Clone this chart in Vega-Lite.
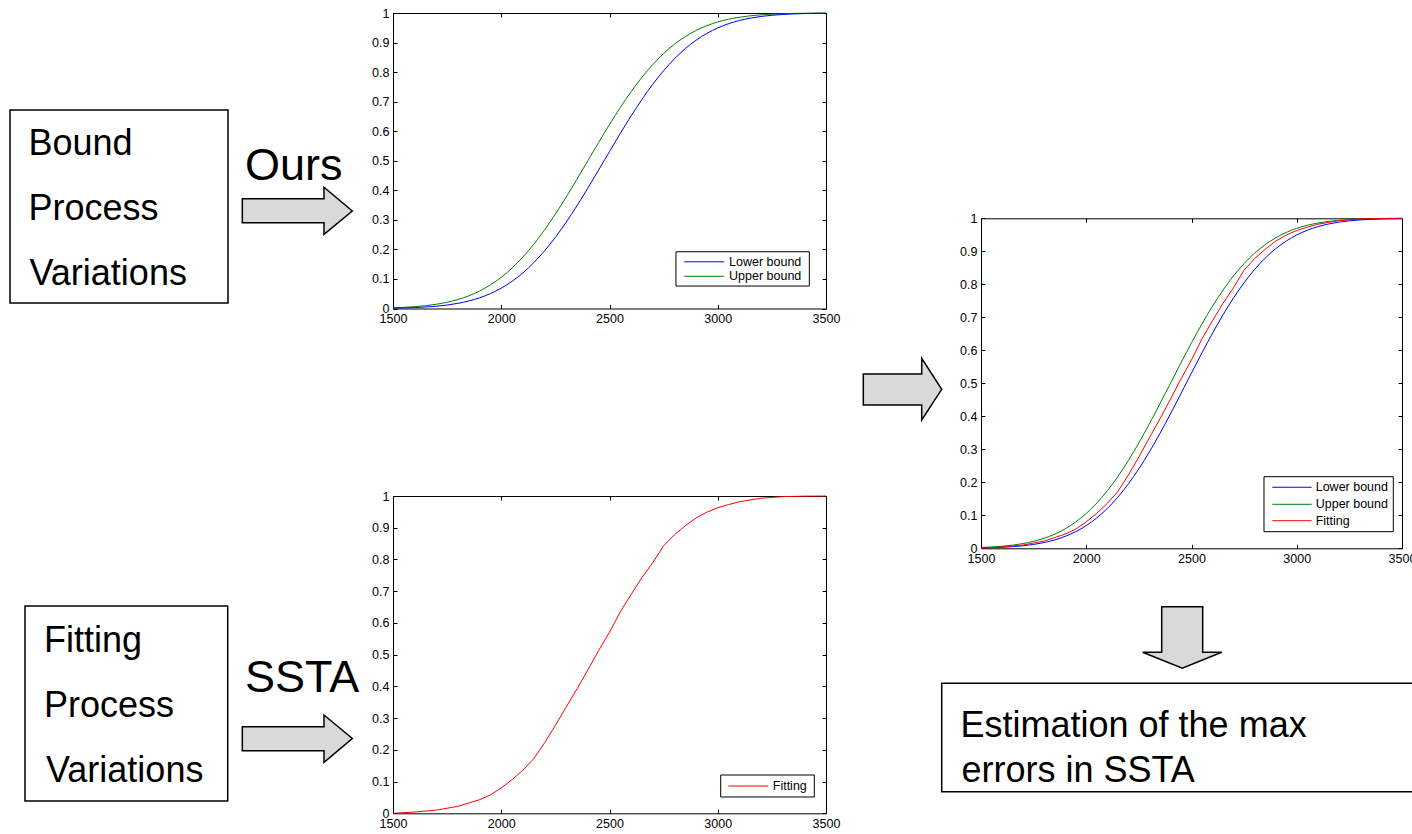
{
  "$schema": "https://vega.github.io/schema/vega-lite/v6.json",
  "width": 1412,
  "height": 834,
  "autosize": {"type": "none"},
  "padding": 0,
  "background": "white",
  "config": {
    "view": {"stroke": null},
    "axis": {
      "grid": false,
      "domainColor": "black",
      "domainWidth": 1,
      "tickColor": "black",
      "tickWidth": 1,
      "tickSize": -4,
      "labelPadding": 8,
      "labelColor": "black",
      "labelFont": "Liberation Sans",
      "labelFontSize": 12.5,
      "labelOverlap": false,
      "labelFlush": false,
      "labelBound": false
    }
  },
  "datasets": {
    "bounds": [
      {"series": "Upper bound", "x": 1500, "p": 0.0025},
      {"series": "Upper bound", "x": 1550, "p": 0.004},
      {"series": "Upper bound", "x": 1600, "p": 0.0062},
      {"series": "Upper bound", "x": 1650, "p": 0.0095},
      {"series": "Upper bound", "x": 1700, "p": 0.0144},
      {"series": "Upper bound", "x": 1750, "p": 0.0211},
      {"series": "Upper bound", "x": 1800, "p": 0.0304},
      {"series": "Upper bound", "x": 1850, "p": 0.0428},
      {"series": "Upper bound", "x": 1900, "p": 0.0591},
      {"series": "Upper bound", "x": 1950, "p": 0.0799},
      {"series": "Upper bound", "x": 2000, "p": 0.1056},
      {"series": "Upper bound", "x": 2050, "p": 0.137},
      {"series": "Upper bound", "x": 2100, "p": 0.1743},
      {"series": "Upper bound", "x": 2150, "p": 0.2173},
      {"series": "Upper bound", "x": 2200, "p": 0.266},
      {"series": "Upper bound", "x": 2250, "p": 0.3196},
      {"series": "Upper bound", "x": 2300, "p": 0.3773},
      {"series": "Upper bound", "x": 2350, "p": 0.438},
      {"series": "Upper bound", "x": 2400, "p": 0.5},
      {"series": "Upper bound", "x": 2450, "p": 0.562},
      {"series": "Upper bound", "x": 2500, "p": 0.6227},
      {"series": "Upper bound", "x": 2550, "p": 0.6804},
      {"series": "Upper bound", "x": 2600, "p": 0.734},
      {"series": "Upper bound", "x": 2650, "p": 0.7827},
      {"series": "Upper bound", "x": 2700, "p": 0.8257},
      {"series": "Upper bound", "x": 2750, "p": 0.863},
      {"series": "Upper bound", "x": 2800, "p": 0.8944},
      {"series": "Upper bound", "x": 2850, "p": 0.9201},
      {"series": "Upper bound", "x": 2900, "p": 0.9409},
      {"series": "Upper bound", "x": 2950, "p": 0.9572},
      {"series": "Upper bound", "x": 3000, "p": 0.9696},
      {"series": "Upper bound", "x": 3050, "p": 0.9789},
      {"series": "Upper bound", "x": 3100, "p": 0.9856},
      {"series": "Upper bound", "x": 3150, "p": 0.9905},
      {"series": "Upper bound", "x": 3200, "p": 0.9938},
      {"series": "Upper bound", "x": 3250, "p": 0.996},
      {"series": "Upper bound", "x": 3300, "p": 0.9975},
      {"series": "Upper bound", "x": 3350, "p": 0.9985},
      {"series": "Upper bound", "x": 3400, "p": 0.9991},
      {"series": "Upper bound", "x": 3450, "p": 0.9995},
      {"series": "Upper bound", "x": 3500, "p": 0.9997},
      {"series": "Lower bound", "x": 1500, "p": 0.0012},
      {"series": "Lower bound", "x": 1550, "p": 0.0019},
      {"series": "Lower bound", "x": 1600, "p": 0.0031},
      {"series": "Lower bound", "x": 1650, "p": 0.005},
      {"series": "Lower bound", "x": 1700, "p": 0.0077},
      {"series": "Lower bound", "x": 1750, "p": 0.0117},
      {"series": "Lower bound", "x": 1800, "p": 0.0175},
      {"series": "Lower bound", "x": 1850, "p": 0.0254},
      {"series": "Lower bound", "x": 1900, "p": 0.0362},
      {"series": "Lower bound", "x": 1950, "p": 0.0504},
      {"series": "Lower bound", "x": 2000, "p": 0.0689},
      {"series": "Lower bound", "x": 2050, "p": 0.0921},
      {"series": "Lower bound", "x": 2100, "p": 0.1206},
      {"series": "Lower bound", "x": 2150, "p": 0.1549},
      {"series": "Lower bound", "x": 2200, "p": 0.1951},
      {"series": "Lower bound", "x": 2250, "p": 0.241},
      {"series": "Lower bound", "x": 2300, "p": 0.2922},
      {"series": "Lower bound", "x": 2350, "p": 0.348},
      {"series": "Lower bound", "x": 2400, "p": 0.4074},
      {"series": "Lower bound", "x": 2450, "p": 0.4689},
      {"series": "Lower bound", "x": 2500, "p": 0.5311},
      {"series": "Lower bound", "x": 2550, "p": 0.5926},
      {"series": "Lower bound", "x": 2600, "p": 0.652},
      {"series": "Lower bound", "x": 2650, "p": 0.7078},
      {"series": "Lower bound", "x": 2700, "p": 0.759},
      {"series": "Lower bound", "x": 2750, "p": 0.8049},
      {"series": "Lower bound", "x": 2800, "p": 0.8451},
      {"series": "Lower bound", "x": 2850, "p": 0.8794},
      {"series": "Lower bound", "x": 2900, "p": 0.9079},
      {"series": "Lower bound", "x": 2950, "p": 0.9311},
      {"series": "Lower bound", "x": 3000, "p": 0.9496},
      {"series": "Lower bound", "x": 3050, "p": 0.9638},
      {"series": "Lower bound", "x": 3100, "p": 0.9746},
      {"series": "Lower bound", "x": 3150, "p": 0.9825},
      {"series": "Lower bound", "x": 3200, "p": 0.9883},
      {"series": "Lower bound", "x": 3250, "p": 0.9923},
      {"series": "Lower bound", "x": 3300, "p": 0.995},
      {"series": "Lower bound", "x": 3350, "p": 0.9969},
      {"series": "Lower bound", "x": 3400, "p": 0.9981},
      {"series": "Lower bound", "x": 3450, "p": 0.9988},
      {"series": "Lower bound", "x": 3500, "p": 0.9993}
    ],
    "fitting": [
      {"x": 1500, "p": 0.0},
      {"x": 1600, "p": 0.004},
      {"x": 1700, "p": 0.01},
      {"x": 1800, "p": 0.022},
      {"x": 1900, "p": 0.043},
      {"x": 1950, "p": 0.058},
      {"x": 2000, "p": 0.08},
      {"x": 2050, "p": 0.106},
      {"x": 2100, "p": 0.136},
      {"x": 2150, "p": 0.172},
      {"x": 2200, "p": 0.222},
      {"x": 2250, "p": 0.277},
      {"x": 2300, "p": 0.335},
      {"x": 2350, "p": 0.392},
      {"x": 2400, "p": 0.452},
      {"x": 2450, "p": 0.513},
      {"x": 2500, "p": 0.571},
      {"x": 2550, "p": 0.635},
      {"x": 2600, "p": 0.69},
      {"x": 2650, "p": 0.743},
      {"x": 2700, "p": 0.79},
      {"x": 2750, "p": 0.843},
      {"x": 2800, "p": 0.878},
      {"x": 2850, "p": 0.906},
      {"x": 2900, "p": 0.931},
      {"x": 2950, "p": 0.949},
      {"x": 3000, "p": 0.963},
      {"x": 3050, "p": 0.973},
      {"x": 3100, "p": 0.982},
      {"x": 3200, "p": 0.993},
      {"x": 3300, "p": 0.998},
      {"x": 3400, "p": 0.9995},
      {"x": 3500, "p": 1.0}
    ],
    "boxes": [
      {"x1": 10, "x2": 228, "y1": 110, "y2": 303},
      {"x1": 25, "x2": 227.7, "y1": 606, "y2": 801},
      {"x1": 941.7, "x2": 1420, "y1": 683.3, "y2": 791.7}
    ],
    "arrows": [
      {"id": "a1", "x": 242.3, "top": 198.7, "bottom": 222.7},
      {"id": "a1", "x": 324, "top": 198.7, "bottom": 222.7},
      {"id": "a1", "x": 324.01, "top": 187.3, "bottom": 234.3},
      {"id": "a1", "x": 352.3, "top": 211, "bottom": 211},
      {"id": "a2", "x": 242.3, "top": 726.7, "bottom": 750.7},
      {"id": "a2", "x": 324, "top": 726.7, "bottom": 750.7},
      {"id": "a2", "x": 324.01, "top": 715, "bottom": 762.3},
      {"id": "a2", "x": 352.3, "top": 738.5, "bottom": 738.5},
      {"id": "a3", "x": 863.3, "top": 374, "bottom": 405},
      {"id": "a3", "x": 921.7, "top": 374, "bottom": 405},
      {"id": "a3", "x": 921.71, "top": 358.3, "bottom": 420},
      {"id": "a3", "x": 941.7, "top": 389.3, "bottom": 389.3}
    ],
    "downArrow": [
      {"y": 606.7, "left": 1161.7, "right": 1202.7},
      {"y": 652.3, "left": 1161.7, "right": 1202.7},
      {"y": 652.31, "left": 1142.7, "right": 1221.7},
      {"y": 668.3, "left": 1182.3, "right": 1182.3}
    ],
    "labels35": [
      {"t": "Bound", "x": 28.5, "y": 155},
      {"t": "Process", "x": 28.5, "y": 220},
      {"t": "Variations", "x": 29.5, "y": 285},
      {"t": "Fitting", "x": 44, "y": 651.7},
      {"t": "Process", "x": 44, "y": 717},
      {"t": "Variations", "x": 46, "y": 781.7},
      {"t": "Estimation of the max", "x": 960.5, "y": 736.7},
      {"t": "errors in SSTA", "x": 961.5, "y": 781.7}
    ],
    "labels44": [
      {"t": "Ours", "x": 245, "y": 180},
      {"t": "SSTA", "x": 245, "y": 691.7}
    ]
  },
  "layer": [
    {
      "layer": [
        {
          "data": {"name": "boxes"},
          "mark": {"type": "rect", "fill": "white", "stroke": "black", "strokeWidth": 1.5},
          "encoding": {
            "x": {"field": "x1", "type": "quantitative", "scale": {"domain": [0, 1412], "range": [0, 1412], "zero": false, "nice": false}, "axis": null},
            "x2": {"field": "x2"},
            "y": {"field": "y1", "type": "quantitative", "scale": {"domain": [0, 834], "range": [0, 834], "zero": false, "nice": false}, "axis": null},
            "y2": {"field": "y2"}
          }
        },
        {
          "data": {"name": "arrows"},
          "mark": {"type": "area", "orient": "vertical", "fill": "#d9d9d9", "stroke": "black", "strokeWidth": 1.5, "interpolate": "linear"},
          "encoding": {
            "x": {"field": "x", "type": "quantitative", "axis": null},
            "y": {"field": "top", "type": "quantitative", "stack": null, "axis": null},
            "y2": {"field": "bottom"},
            "detail": {"field": "id"}
          }
        },
        {
          "data": {"name": "downArrow"},
          "mark": {"type": "area", "orient": "horizontal", "fill": "#d9d9d9", "stroke": "black", "strokeWidth": 1.5, "interpolate": "linear"},
          "encoding": {
            "y": {"field": "y", "type": "quantitative", "axis": null},
            "x": {"field": "left", "type": "quantitative", "stack": null, "axis": null},
            "x2": {"field": "right"}
          }
        },
        {
          "data": {"name": "labels35"},
          "mark": {"type": "text", "align": "left", "baseline": "alphabetic", "font": "Liberation Sans", "fontSize": 36, "color": "black"},
          "encoding": {
            "x": {"field": "x", "type": "quantitative", "axis": null},
            "y": {"field": "y", "type": "quantitative", "axis": null},
            "text": {"field": "t"}
          }
        },
        {
          "data": {"name": "labels44"},
          "mark": {"type": "text", "align": "left", "baseline": "alphabetic", "font": "Liberation Sans", "fontSize": 45, "color": "black"},
          "encoding": {
            "x": {"field": "x", "type": "quantitative", "axis": null},
            "y": {"field": "y", "type": "quantitative", "axis": null},
            "text": {"field": "t"}
          }
        }
      ]
    },
    {
      "layer": [
        {
          "data": {"name": "bounds"},
          "mark": {"type": "line", "strokeWidth": 1, "interpolate": "monotone"},
          "encoding": {
            "x": {"field": "x", "type": "quantitative", "scale": {"domain": [1500, 3500], "range": [393, 826], "zero": false, "nice": false}, "axis": {"orient": "bottom", "offset": -525.5, "values": [1500, 2000, 2500, 3000, 3500], "format": "d", "title": null}},
            "y": {"field": "p", "type": "quantitative", "scale": {"domain": [0, 1], "range": [308.5, 13], "zero": false, "nice": false}, "axis": {"orient": "left", "offset": -393, "values": [0, 0.1, 0.2, 0.3, 0.4, 0.5, 0.6, 0.7, 0.8, 0.9, 1], "format": "~g", "title": null}},
            "color": {"field": "series", "type": "nominal", "scale": {"domain": ["Lower bound", "Upper bound"], "range": ["#0000ff", "#008000"]}, "legend": null}
          }
        },
        {
          "data": {"values": [{}]},
          "mark": {"type": "rect", "fill": "white", "stroke": "black", "strokeWidth": 1},
          "encoding": {
            "x": {"datum": 2807, "type": "quantitative", "axis": {"orient": "top", "offset": -13, "values": [1500, 2000, 2500, 3000, 3500], "labels": false, "title": null}},
            "x2": {"datum": 3423},
            "y": {"datum": 0.192, "type": "quantitative", "axis": {"orient": "right", "offset": -586, "values": [0, 0.1, 0.2, 0.3, 0.4, 0.5, 0.6, 0.7, 0.8, 0.9, 1], "labels": false, "title": null}},
            "y2": {"datum": 0.076}
          }
        },
        {
          "data": {"values": [{}]},
          "mark": {"type": "rule", "strokeWidth": 1},
          "encoding": {
            "x": {"datum": 2845, "type": "quantitative", "axis": null},
            "x2": {"datum": 3030},
            "y": {"datum": 0.158, "type": "quantitative", "axis": null},
            "color": {"value": "#0000ff"}
          }
        },
        {
          "data": {"values": [{}]},
          "mark": {"type": "rule", "strokeWidth": 1},
          "encoding": {
            "x": {"datum": 2845, "type": "quantitative", "axis": null},
            "x2": {"datum": 3030},
            "y": {"datum": 0.109, "type": "quantitative", "axis": null},
            "color": {"value": "#008000"}
          }
        },
        {
          "data": {"values": [{}]},
          "mark": {"type": "text", "align": "left", "baseline": "middle", "font": "Liberation Sans", "fontSize": 12.5, "color": "black"},
          "encoding": {
            "x": {"datum": 3052, "type": "quantitative", "axis": null},
            "y": {"datum": 0.158, "type": "quantitative", "axis": null},
            "text": {"value": "Lower bound"}
          }
        },
        {
          "data": {"values": [{}]},
          "mark": {"type": "text", "align": "left", "baseline": "middle", "font": "Liberation Sans", "fontSize": 12.5, "color": "black"},
          "encoding": {
            "x": {"datum": 3052, "type": "quantitative", "axis": null},
            "y": {"datum": 0.109, "type": "quantitative", "axis": null},
            "text": {"value": "Upper bound"}
          }
        }
      ],
      "resolve": {"axis": {"x": "independent", "y": "independent"}}
    },
    {
      "layer": [
        {
          "data": {"name": "fitting"},
          "mark": {"type": "line", "strokeWidth": 1, "interpolate": "linear", "color": "#ff0000"},
          "encoding": {
            "x": {"field": "x", "type": "quantitative", "scale": {"domain": [1500, 3500], "range": [393, 826], "zero": false, "nice": false}, "axis": {"orient": "bottom", "offset": -20.7, "values": [1500, 2000, 2500, 3000, 3500], "format": "d", "title": null}},
            "y": {"field": "p", "type": "quantitative", "scale": {"domain": [0, 1], "range": [813.3, 496], "zero": false, "nice": false}, "axis": {"orient": "left", "offset": -393, "values": [0, 0.1, 0.2, 0.3, 0.4, 0.5, 0.6, 0.7, 0.8, 0.9, 1], "format": "~g", "title": null}}
          }
        },
        {
          "data": {"values": [{}]},
          "mark": {"type": "rect", "fill": "white", "stroke": "black", "strokeWidth": 1},
          "encoding": {
            "x": {"datum": 3013.6, "type": "quantitative", "axis": {"orient": "top", "offset": -496, "values": [1500, 2000, 2500, 3000, 3500], "labels": false, "title": null}},
            "x2": {"datum": 3446},
            "y": {"datum": 0.1207, "type": "quantitative", "axis": {"orient": "right", "offset": -586, "values": [0, 0.1, 0.2, 0.3, 0.4, 0.5, 0.6, 0.7, 0.8, 0.9, 1], "labels": false, "title": null}},
            "y2": {"datum": 0.0514}
          }
        },
        {
          "data": {"values": [{}]},
          "mark": {"type": "rule", "strokeWidth": 1},
          "encoding": {
            "x": {"datum": 3049, "type": "quantitative", "axis": null},
            "x2": {"datum": 3234},
            "y": {"datum": 0.086, "type": "quantitative", "axis": null},
            "color": {"value": "#ff0000"}
          }
        },
        {
          "data": {"values": [{}]},
          "mark": {"type": "text", "align": "left", "baseline": "middle", "font": "Liberation Sans", "fontSize": 12.5, "color": "black"},
          "encoding": {
            "x": {"datum": 3254, "type": "quantitative", "axis": null},
            "y": {"datum": 0.086, "type": "quantitative", "axis": null},
            "text": {"value": "Fitting"}
          }
        }
      ],
      "resolve": {"axis": {"x": "independent", "y": "independent"}}
    },
    {
      "layer": [
        {
          "data": {"name": "bounds"},
          "mark": {"type": "line", "strokeWidth": 1, "interpolate": "monotone"},
          "encoding": {
            "x": {"field": "x", "type": "quantitative", "scale": {"domain": [1500, 3500], "range": [981, 1402], "zero": false, "nice": false}, "axis": {"orient": "bottom", "offset": -285.7, "values": [1500, 2000, 2500, 3000, 3500], "format": "d", "title": null}},
            "y": {"field": "p", "type": "quantitative", "scale": {"domain": [0, 1], "range": [548.3, 218.3], "zero": false, "nice": false}, "axis": {"orient": "left", "offset": -981, "values": [0, 0.1, 0.2, 0.3, 0.4, 0.5, 0.6, 0.7, 0.8, 0.9, 1], "format": "~g", "title": null}},
            "color": {"field": "series", "type": "nominal", "scale": {"domain": ["Lower bound", "Upper bound"], "range": ["#0000ff", "#008000"]}, "legend": null}
          }
        },
        {
          "data": {"name": "fitting"},
          "mark": {"type": "line", "strokeWidth": 1, "interpolate": "linear", "color": "#ff0000"},
          "encoding": {
            "x": {"field": "x", "type": "quantitative", "axis": null},
            "y": {"field": "p", "type": "quantitative", "axis": null}
          }
        },
        {
          "data": {"values": [{}]},
          "mark": {"type": "rect", "fill": "white", "stroke": "black", "strokeWidth": 1},
          "encoding": {
            "x": {"datum": 2844.4, "type": "quantitative", "axis": {"orient": "top", "offset": -218.3, "values": [1500, 2000, 2500, 3000, 3500], "labels": false, "title": null}},
            "x2": {"datum": 3458.7},
            "y": {"datum": 0.217, "type": "quantitative", "axis": {"orient": "right", "offset": -10, "values": [0, 0.1, 0.2, 0.3, 0.4, 0.5, 0.6, 0.7, 0.8, 0.9, 1], "labels": false, "title": null}},
            "y2": {"datum": 0.0503}
          }
        },
        {
          "data": {"values": [{}]},
          "mark": {"type": "rule", "strokeWidth": 1},
          "encoding": {
            "x": {"datum": 2883.8, "type": "quantitative", "axis": null},
            "x2": {"datum": 3071},
            "y": {"datum": 0.185, "type": "quantitative", "axis": null},
            "color": {"value": "#0000ff"}
          }
        },
        {
          "data": {"values": [{}]},
          "mark": {"type": "rule", "strokeWidth": 1},
          "encoding": {
            "x": {"datum": 2883.8, "type": "quantitative", "axis": null},
            "x2": {"datum": 3071},
            "y": {"datum": 0.1333, "type": "quantitative", "axis": null},
            "color": {"value": "#008000"}
          }
        },
        {
          "data": {"values": [{}]},
          "mark": {"type": "rule", "strokeWidth": 1},
          "encoding": {
            "x": {"datum": 2883.8, "type": "quantitative", "axis": null},
            "x2": {"datum": 3071},
            "y": {"datum": 0.0836, "type": "quantitative", "axis": null},
            "color": {"value": "#ff0000"}
          }
        },
        {
          "data": {"values": [{}]},
          "mark": {"type": "text", "align": "left", "baseline": "middle", "font": "Liberation Sans", "fontSize": 12.5, "color": "black"},
          "encoding": {
            "x": {"datum": 3090, "type": "quantitative", "axis": null},
            "y": {"datum": 0.185, "type": "quantitative", "axis": null},
            "text": {"value": "Lower bound"}
          }
        },
        {
          "data": {"values": [{}]},
          "mark": {"type": "text", "align": "left", "baseline": "middle", "font": "Liberation Sans", "fontSize": 12.5, "color": "black"},
          "encoding": {
            "x": {"datum": 3090, "type": "quantitative", "axis": null},
            "y": {"datum": 0.1333, "type": "quantitative", "axis": null},
            "text": {"value": "Upper bound"}
          }
        },
        {
          "data": {"values": [{}]},
          "mark": {"type": "text", "align": "left", "baseline": "middle", "font": "Liberation Sans", "fontSize": 12.5, "color": "black"},
          "encoding": {
            "x": {"datum": 3090, "type": "quantitative", "axis": null},
            "y": {"datum": 0.0836, "type": "quantitative", "axis": null},
            "text": {"value": "Fitting"}
          }
        }
      ],
      "resolve": {"axis": {"x": "independent", "y": "independent"}}
    }
  ],
  "resolve": {"scale": {"x": "independent", "y": "independent"}}
}
